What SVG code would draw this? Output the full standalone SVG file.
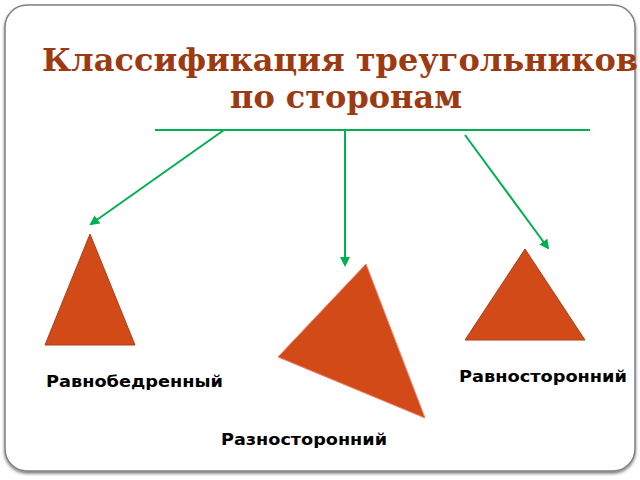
<svg xmlns="http://www.w3.org/2000/svg" width="640" height="480" viewBox="0 0 640 480">
<defs>
<marker id="ah" viewBox="0 0 10 10" refX="8" refY="5" markerWidth="5" markerHeight="5" orient="auto">
<path d="M0,0 L10,5 L0,10 z" fill="#00b050"/>
</marker>
<filter id="sh" x="-5%" y="-5%" width="110%" height="110%">
<feDropShadow dx="0" dy="2" stdDeviation="1.5" flood-color="#000" flood-opacity="0.5"/>
</filter>
</defs>
<style>
.tri{fill:#d24a18;stroke:#a8401c;stroke-width:1}
.lbl{font-family:"DejaVu Sans",sans-serif;font-weight:bold;font-size:15.5px;fill:#000}
.ttl{font-family:"DejaVu Serif","Liberation Serif",serif;font-weight:bold;font-size:31px;fill:#9c3a12}
.con{stroke:#00b050;stroke-width:2;fill:none}
</style>
<rect width="640" height="480" fill="#fff"/>
<rect x="5" y="5" width="630" height="466" rx="22" ry="22" fill="#fff" stroke="#808080" stroke-width="1.5" filter="url(#sh)"/>
<g id="title">
<text class="ttl" x="42" y="71" textLength="596" lengthAdjust="spacingAndGlyphs">Классификация треугольников</text>
<text class="ttl" x="346" y="108" text-anchor="middle" textLength="232" lengthAdjust="spacingAndGlyphs">по сторонам</text>
</g>
<g id="connectors">
<line class="con" x1="155" y1="130" x2="590" y2="130"/>
<line class="con" x1="224" y1="130" x2="91" y2="224" marker-end="url(#ah)"/>
<line class="con" x1="345" y1="130" x2="345" y2="265" marker-end="url(#ah)"/>
<line class="con" x1="465" y1="135" x2="548" y2="248" marker-end="url(#ah)"/>
</g>
<g id="isosceles">
<polygon class="tri" points="90,234 45,345 135,345"/>
<text class="lbl" x="46" y="387" textLength="177" lengthAdjust="spacingAndGlyphs">Равнобедренный</text>
</g>
<g id="scalene">
<polygon class="tri" points="366,264 278,357 425,418" style="stroke:#f08070"/>
<text class="lbl" x="221" y="445" textLength="166" lengthAdjust="spacingAndGlyphs">Разносторонний</text>
</g>
<g id="equilateral">
<polygon class="tri" points="525,249 465,340 585,340"/>
<text class="lbl" x="459" y="382" textLength="168" lengthAdjust="spacingAndGlyphs">Равносторонний</text>
</g>
</svg>
